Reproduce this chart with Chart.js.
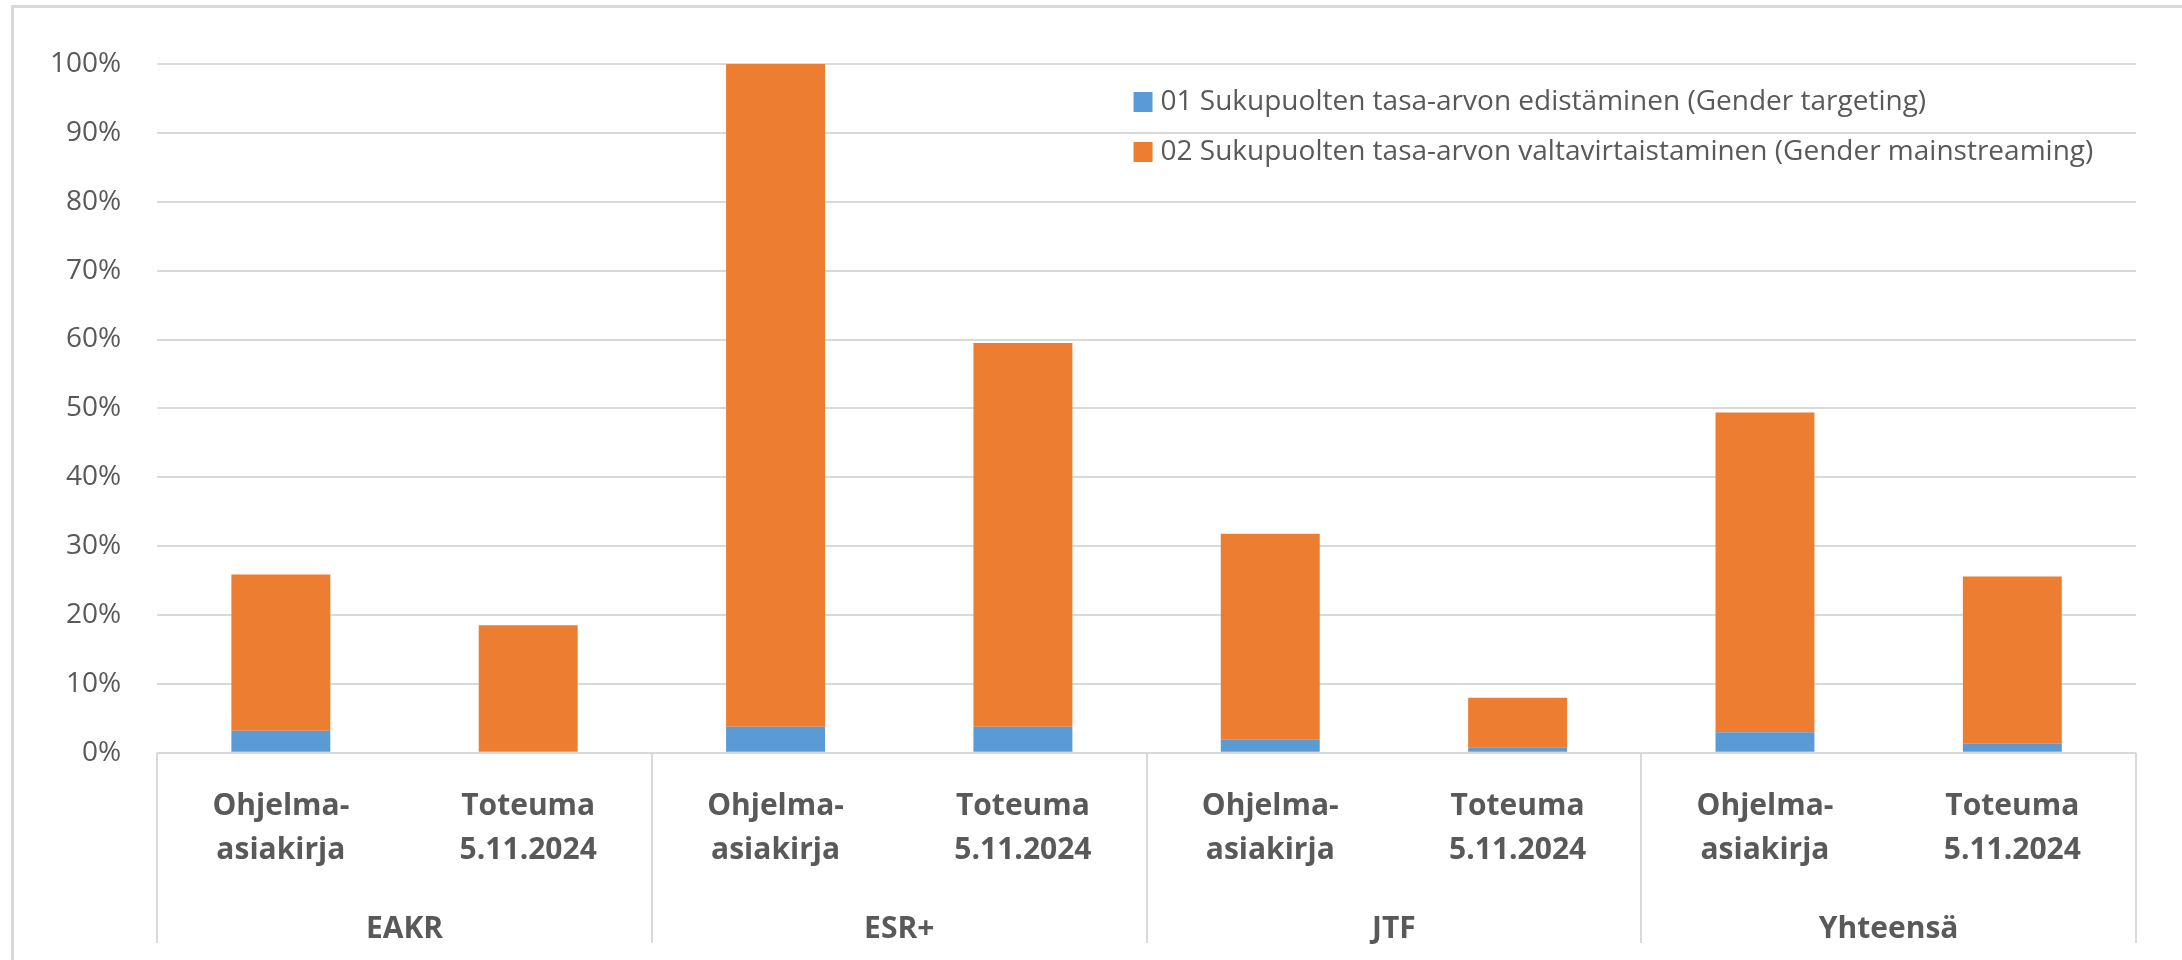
<!DOCTYPE html>
<html>
<head>
<meta charset="utf-8">
<script src="https://cdn.jsdelivr.net/npm/chart.js@4"></script>
<style>
  body { margin: 0; background: #fff; }
  #wrap { position: relative; width: 2182px; height: 960px; }
</style>
</head>
<body>
<div id="wrap"><canvas id="genderChart"></canvas></div>
<script>
// data (percent)
const groups = ['EAKR', 'ESR+', 'JTF', 'Yhteensä'];
const categories = [
  ['Ohjelma-', 'asiakirja'], ['Toteuma', '5.11.2024'],
  ['Ohjelma-', 'asiakirja'], ['Toteuma', '5.11.2024'],
  ['Ohjelma-', 'asiakirja'], ['Toteuma', '5.11.2024'],
  ['Ohjelma-', 'asiakirja'], ['Toteuma', '5.11.2024']
];
const genderTargeting = [3.2, 0, 3.8, 3.8, 1.9, 0.8, 3.0, 1.3];
const genderMainstreaming = [22.7, 18.5, 96.2, 55.7, 29.9, 7.2, 46.4, 24.3];
const yTicks = [0, 10, 20, 30, 40, 50, 60, 70, 80, 90, 100];

const gridColor = '#d9d9d9';
const textColor = '#595959';

Chart.defaults.font.family = "'Open Sans', sans-serif";
Chart.defaults.color = textColor;

// frame + group separators on the category axis
const framePlugin = {
  id: 'frame',
  beforeDraw(chart) {
    const c = chart.ctx;
    c.save();
    c.strokeStyle = gridColor;
    c.lineWidth = 3;
    c.strokeRect(12.5, 6.5, 2400, 1200);
    c.restore();
  },
  afterDraw(chart) {
    const c = chart.ctx;
    const x = chart.scales.x;
    c.save();
    c.strokeStyle = gridColor;
    c.lineWidth = 2;
    for (let i = 0; i <= groups.length; i++) {
      const px = Math.round(x.getPixelForValue(i * 2 - 0.5));
      c.beginPath();
      c.moveTo(px, chart.chartArea.bottom);
      c.lineTo(px, chart.height - 17);
      c.stroke();
    }
    c.restore();
  }
};

// legend drawn inside the plot, top right
const legendPlugin = {
  id: 'insideLegend',
  afterDatasetsDraw(chart) {
    const c = chart.ctx;
    const a = chart.chartArea;
    const left = a.left + a.width * 0.4934;
    c.save();
    c.font = "28px 'Open Sans', sans-serif";
    c.textBaseline = 'middle';
    chart.data.datasets.forEach((ds, i) => {
      const cy = a.top + 38 + i * 50;
      c.fillStyle = ds.backgroundColor;
      c.fillRect(left, cy - 10, 19, 20);
      c.fillStyle = textColor;
      c.fillText(ds.label, left + 27, cy);
    });
    c.restore();
  }
};

const ctx = document.getElementById('genderChart').getContext('2d');
const genderChart = new Chart(ctx, {
  type: 'bar',
  data: {
    labels: categories,
    datasets: [
      {
        label: '01 Sukupuolten tasa-arvon edistäminen (Gender targeting)',
        data: genderTargeting,
        backgroundColor: '#5b9bd5',
        barPercentage: 0.4,
        categoryPercentage: 1
      },
      {
        label: '02 Sukupuolten tasa-arvon valtavirtaistaminen (Gender mainstreaming)',
        data: genderMainstreaming,
        backgroundColor: '#ed7d31',
        barPercentage: 0.4,
        categoryPercentage: 1
      }
    ]
  },
  options: {
    responsive: true,
    maintainAspectRatio: false,
    animation: false,
    layout: { padding: { left: 14, right: 46, top: 64, bottom: 7 } },
    plugins: {
      legend: { display: false },
      tooltip: { enabled: false }
    },
    scales: {
      x: {
        stacked: true,
        offset: true,
        grid: { display: false, drawTicks: false },
        border: { display: false },
        ticks: {
          color: textColor,
          padding: 32,
          maxRotation: 0,
          font: { size: 30, weight: 'bold', lineHeight: 1.47 }
        }
      },
      x2: {
        type: 'category',
        labels: groups,
        position: 'bottom',
        offset: true,
        grid: { display: false, drawTicks: false },
        border: { display: false },
        ticks: {
          color: textColor,
          padding: 9,
          maxRotation: 0,
          font: { size: 30, weight: 'bold', lineHeight: 1 }
        }
      },
      y: {
        stacked: true,
        min: 0,
        max: 100,
        afterBuildTicks(scale) {
          scale.ticks = yTicks.map(v => ({ value: v }));
        },
        grid: { color: gridColor, lineWidth: 2, drawTicks: false },
        border: { display: false },
        ticks: {
          color: textColor,
          padding: 36,
          font: { size: 28 },
          callback: v => v + '%'
        }
      }
    }
  },
  plugins: [framePlugin, legendPlugin]
});
</script>
</body>
</html>
